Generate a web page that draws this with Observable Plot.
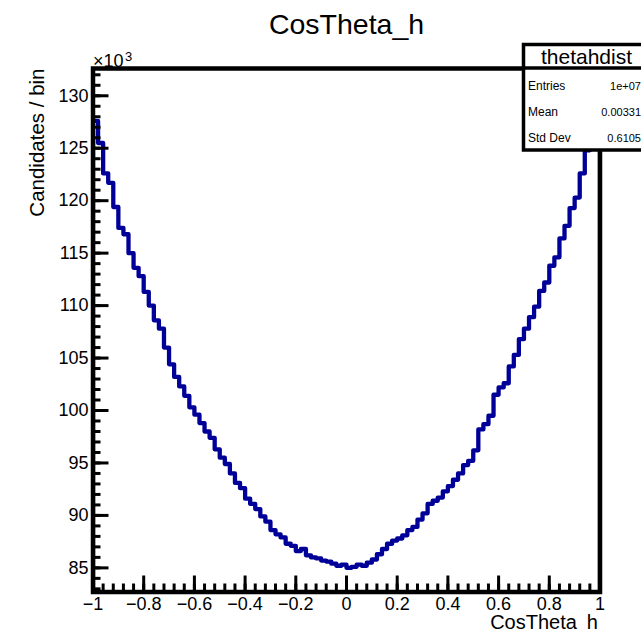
<!DOCTYPE html>
<html><head><meta charset="utf-8">
<script src="https://cdn.jsdelivr.net/npm/d3@7"></script>
<script src="https://cdn.jsdelivr.net/npm/@observablehq/plot@0.6"></script>
<style>body{margin:0;background:#fff} svg{display:block}</style>
</head><body><div id="chart"></div>
<script>
const title = "CosTheta_h";
const xLabel = "CosTheta\u2002h";
const yLabel = "Candidates / bin";
const yExponent = "3";
const xRange = [-1, 1];
const yDomain = [82.7, 132.6];
// bin contents (x10^3), 100 bins from -1 to 1
const counts = [
  127.6, 125.5, 122.6, 121.7, 119.4, 117.4, 116.8, 115.0, 113.6, 112.8,
  111.3, 110.0, 108.6, 107.8, 106.0, 104.4, 103.2, 102.3, 101.4, 100.3,
  99.6, 98.8, 98.0, 97.4, 96.3, 95.5, 94.9, 94.0, 93.1, 92.6,
  91.6, 91.1, 90.6, 89.9, 89.4, 88.6, 88.2, 87.9, 87.3, 87.1,
  86.6, 86.8, 86.2, 86.0, 85.9, 85.7, 85.6, 85.4, 85.2, 85.3,
  85.0, 85.1, 85.3, 85.2, 85.5, 85.8, 86.3, 86.8, 87.3, 87.6,
  87.8, 88.1, 88.6, 88.9, 89.6, 90.2, 91.1, 91.4, 91.7, 92.3,
  92.8, 93.4, 94.0, 94.8, 95.2, 96.2, 98.2, 98.7, 99.5, 101.5,
  102.2, 102.6, 104.2, 105.3, 106.8, 107.8, 108.9, 109.9, 111.4, 112.2,
  113.8, 114.6, 116.4, 117.6, 119.3, 120.3, 122.6, 124.8, 126.2, 127.9
];
const xTicks = [-1, -0.8, -0.6, -0.4, -0.2, 0, 0.2, 0.4, 0.6, 0.8, 1];
const xMinorStep = 0.04;
const yTicks = [85, 90, 95, 100, 105, 110, 115, 120, 125, 130];
const yMinorStep = 1;
const statsName = "thetahdist";
const statsLabels = ["Entries", "Mean", "Std Dev"];
const statsValues = ["1e+07", "0.00331", "0.6105"];

const W = 641, H = 636, mL = 92.5, mR = 41.5, mT = 68, mB = 44.5;
const fw = W - mL - mR, fh = H - mT - mB;
const nb = counts.length, bw = (xRange[1] - xRange[0]) / nb;
const steps = counts.map((v, i) => ({x: xRange[0] + i * bw, y: v}));
steps.unshift({x: xRange[0], y: 0});
steps.push({x: xRange[1], y: counts[nb - 1]}, {x: xRange[1], y: 0});

const xMinor = d3.range(0, Math.round((xRange[1] - xRange[0]) / xMinorStep) + 1).map(i => xRange[0] + i * xMinorStep);
const yMinor = d3.range(Math.ceil(yDomain[0]), Math.floor(yDomain[1]) + 1, yMinorStep);
const fmt = d => (d < 0 ? "\u2212" : "") + Math.abs(d);
const FONT = "Liberation Sans, Arial, Helvetica, sans-serif";

const chart = Plot.plot({
  width: W, height: H,
  marginLeft: mL, marginRight: mR, marginTop: mT, marginBottom: mB,
  x: {domain: xRange},
  y: {domain: yDomain},
  style: {fontFamily: FONT, background: "white", color: "black", overflow: "visible"},
  marks: [
    Plot.line(steps, {x: "x", y: "y", curve: "step-after", stroke: "#000099", strokeWidth: 4.3, clip: true}),
    Plot.tickY(yMinor, {y: d => d, insetRight: fw - 8, stroke: "black", strokeWidth: 3}),
    Plot.tickY(yTicks, {y: d => d, insetRight: fw - 16, stroke: "black", strokeWidth: 3}),
    Plot.tickX(xMinor, {x: d => d, insetTop: fh - 8, stroke: "black", strokeWidth: 3}),
    Plot.tickX(xTicks, {x: d => d, insetTop: fh - 16, stroke: "black", strokeWidth: 3}),
    Plot.frame({stroke: "black", strokeWidth: 4.5}),
    Plot.axisY({ticks: yTicks, tickSize: 0, tickPadding: 4.5, fontSize: 18, label: null}),
    Plot.axisX({ticks: xTicks, tickSize: 0, tickPadding: 5, fontSize: 18, label: null, tickFormat: fmt}),
    Plot.text([title], {frameAnchor: "top", dy: -35, lineAnchor: "bottom", fontSize: 28.5}),
    Plot.text([xLabel], {frameAnchor: "bottom-right", dx: -2, dy: 37, lineAnchor: "bottom", textAnchor: "end", fontSize: 20}),
    Plot.text([yLabel], {frameAnchor: "top-left", rotate: -90, textAnchor: "end", lineAnchor: "bottom", dx: -49.5, fontSize: 20.5}),
    Plot.text(["\u00d710"], {frameAnchor: "top-left", textAnchor: "start", lineAnchor: "bottom", dy: -2, fontSize: 18}),
    Plot.text([yExponent], {frameAnchor: "top-left", textAnchor: "start", lineAnchor: "bottom", dx: 32, dy: -8, fontSize: 13})
  ]
});
document.getElementById("chart").appendChild(chart);

// statistics box (ROOT TPaveStats)
const svg = d3.select(chart);
const box = svg.append("g").attr("font-family", FONT).attr("fill", "black");
const bx = 523.5, by = 44.5, bwid = 140, bh = 105.5;
box.append("rect").attr("x", bx).attr("y", by).attr("width", bwid).attr("height", bh)
  .attr("fill", "white").attr("stroke", "black").attr("stroke-width", 3.5);
box.append("line").attr("x1", bx).attr("x2", bx + bwid).attr("y1", mT).attr("y2", mT)
  .attr("stroke", "black").attr("stroke-width", 3.5);
box.append("text").attr("x", 586.5).attr("y", 64).attr("text-anchor", "middle")
  .attr("font-size", 21).text(statsName);
statsLabels.forEach((s, i) => {
  const yy = 90 + i * 25.8;
  box.append("text").attr("x", 528).attr("y", yy).attr("text-anchor", "start").attr("font-size", 12).text(s);
  box.append("text").attr("x", 641).attr("y", yy).attr("text-anchor", "end").attr("font-size", 11).text(statsValues[i]);
});
</script></body></html>
